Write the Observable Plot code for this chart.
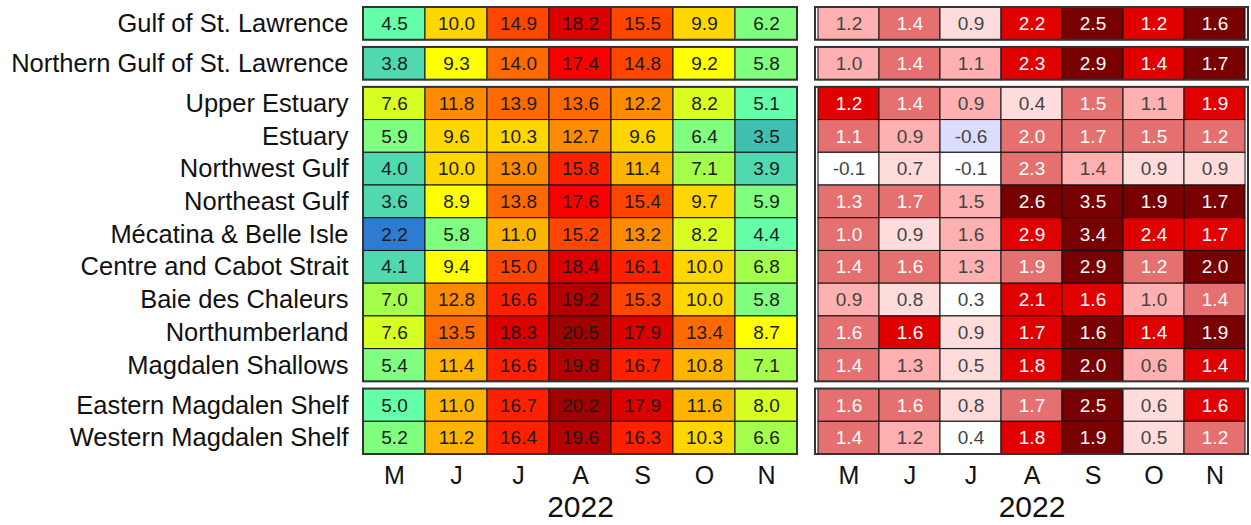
<!DOCTYPE html>
<html>
<head>
<meta charset="utf-8">
<script src="https://cdn.jsdelivr.net/npm/d3@7"></script>
<script src="https://cdn.jsdelivr.net/npm/@observablehq/plot@0.6"></script>
<style>
  html, body { margin: 0; padding: 0; background: #fff; }
  #wrap { display: flex; flex-direction: row; width: 1251px; height: 525px; }
</style>
</head>
<body>
<div id="wrap"></div>
<script>
// ---------- data ----------
const regions = [
  "Gulf of St. Lawrence",
  "Northern Gulf of St. Lawrence",
  "Upper Estuary",
  "Estuary",
  "Northwest Gulf",
  "Northeast Gulf",
  "Mécatina & Belle Isle",
  "Centre and Cabot Strait",
  "Baie des Chaleurs",
  "Northumberland",
  "Magdalen Shallows",
  "Eastern Magdalen Shelf",
  "Western Magdalen Shelf"
];
const groupSizes = [1, 1, 9, 2];
const monthKeys = ["May", "Jun", "Jul", "Aug", "Sep", "Oct", "Nov"];
const monthLabels = ["M", "J", "J", "A", "S", "O", "N"];
const yearLabel = "2022";

const temperatures = [
  [4.5, 10.0, 14.9, 18.2, 15.5, 9.9, 6.2],
  [3.8, 9.3, 14.0, 17.4, 14.8, 9.2, 5.8],
  [7.6, 11.8, 13.9, 13.6, 12.2, 8.2, 5.1],
  [5.9, 9.6, 10.3, 12.7, 9.6, 6.4, 3.5],
  [4.0, 10.0, 13.0, 15.8, 11.4, 7.1, 3.9],
  [3.6, 8.9, 13.8, 17.6, 15.4, 9.7, 5.9],
  [2.2, 5.8, 11.0, 15.2, 13.2, 8.2, 4.4],
  [4.1, 9.4, 15.0, 18.4, 16.1, 10.0, 6.8],
  [7.0, 12.8, 16.6, 19.2, 15.3, 10.0, 5.8],
  [7.6, 13.5, 18.3, 20.5, 17.9, 13.4, 8.7],
  [5.4, 11.4, 16.6, 19.8, 16.7, 10.8, 7.1],
  [5.0, 11.0, 16.7, 20.2, 17.9, 11.6, 8.0],
  [5.2, 11.2, 16.4, 19.6, 16.3, 10.3, 6.6]
];

const anomalies = [
  [1.2, 1.4, 0.9, 2.2, 2.5, 1.2, 1.6],
  [1.0, 1.4, 1.1, 2.3, 2.9, 1.4, 1.7],
  [1.2, 1.4, 0.9, 0.4, 1.5, 1.1, 1.9],
  [1.1, 0.9, -0.6, 2.0, 1.7, 1.5, 1.2],
  [-0.1, 0.7, -0.1, 2.3, 1.4, 0.9, 0.9],
  [1.3, 1.7, 1.5, 2.6, 3.5, 1.9, 1.7],
  [1.0, 0.9, 1.6, 2.9, 3.4, 2.4, 1.7],
  [1.4, 1.6, 1.3, 1.9, 2.9, 1.2, 2.0],
  [0.9, 0.8, 0.3, 2.1, 1.6, 1.0, 1.4],
  [1.6, 1.6, 0.9, 1.7, 1.6, 1.4, 1.9],
  [1.4, 1.3, 0.5, 1.8, 2.0, 0.6, 1.4],
  [1.6, 1.6, 0.8, 1.7, 2.5, 0.6, 1.6],
  [1.4, 1.2, 0.4, 1.8, 1.9, 0.5, 1.2]
];

// standardized-anomaly colour class of each cell
const anomalyClass = [
  [2, 3, 1, 4, 5, 4, 5],
  [2, 3, 2, 4, 5, 4, 5],
  [4, 3, 2, 1, 3, 2, 4],
  [3, 2, -1, 3, 3, 3, 3],
  [0, 1, 0, 3, 2, 1, 1],
  [3, 3, 2, 5, 5, 5, 5],
  [3, 1, 2, 4, 5, 4, 4],
  [3, 3, 2, 3, 5, 3, 5],
  [2, 1, 0, 4, 4, 2, 3],
  [3, 4, 1, 4, 5, 4, 5],
  [3, 2, 1, 4, 5, 2, 4],
  [3, 3, 1, 3, 5, 1, 4],
  [3, 2, 0, 4, 5, 1, 3]
];

// ---------- scale configuration ----------
const tempThresholds = [3.0, 3.55, 4.3, 5.15, 6.5, 7.3, 8.5, 9.5, 10.5, 11.7, 13.3, 14.4, 15.6, 17.0, 17.7, 18.8, 20.0];
const tempColors = ["#2e7bd2", "#40c0b0", "#50d8b0", "#64ffa8", "#80ff80", "#a4ff4c", "#d8ff22",
  "#ffff00", "#ffd700", "#ffb400", "#ff8c00", "#ff6a00", "#ff4600", "#ff2000",
  "#fa0000", "#dc0000", "#b40000", "#a00000"];
const classDomain = [-1, 0, 1, 2, 3, 4, 5];
const classColors = ["#dcdcff", "#ffffff", "#ffdcdc", "#ffb0b0", "#e47070", "#e00000", "#780000"];

// ---------- layout (row positions with gaps between groups) ----------
const gap = 0.22;
const rowPos = [];
const groupSpans = [];
{
  let y = 0;
  groupSizes.forEach(n => {
    const start = y;
    for (let i = 0; i < n; i++) { rowPos.push(y); y += 1; }
    groupSpans.push({y1: start, y2: y});
    y += gap;
  });
}
const total = rowPos[rowPos.length - 1] + 1;

const cells = [];
regions.forEach((r, i) => {
  monthKeys.forEach((m, j) => {
    cells.push({
      region: r, month: m,
      temp: temperatures[i][j],
      anom: anomalies[i][j],
      cls: anomalyClass[i][j],
      top: rowPos[i], bottom: rowPos[i] + 1, mid: rowPos[i] + 0.5
    });
  });
});
const labelRows = regions.map((r, i) => ({region: r, mid: rowPos[i] + 0.5}));

const H = 525, MT = 7, MB = 71;
const font = "'Liberation Sans', Arial, Helvetica, sans-serif";
const fmt = v => v.toFixed(1);

const monthText = () => Plot.text(monthKeys, {
  x: d => d, text: d => monthLabels[monthKeys.indexOf(d)],
  frameAnchor: "bottom", lineAnchor: "middle", dy: 21, fontSize: 25, fill: "#111"
});
const yearText = () => Plot.text([yearLabel], {
  text: d => d, frameAnchor: "bottom", lineAnchor: "middle", dy: 53, fontSize: 30, fill: "#111"
});
const groupFrames = () => Plot.barY(groupSpans, {
  y1: "y1", y2: "y2", fill: "none", stroke: "#333", strokeWidth: 2
});

// left panel: monthly mean temperatures
const left = Plot.plot({
  width: 806, height: H,
  marginLeft: 363, marginRight: 9, marginTop: MT, marginBottom: MB,
  style: {fontFamily: font, background: "white", color: "#111"},
  x: {type: "band", domain: monthKeys, padding: 0, axis: null},
  y: {domain: [0, total], range: [MT, H - MB], axis: null},
  color: {type: "threshold", domain: tempThresholds, range: tempColors},
  marks: [
    Plot.barY(cells, {x: "month", y1: "top", y2: "bottom", fill: "temp", stroke: "#111", strokeWidth: 1}),
    groupFrames(),
    Plot.text(cells, {x: "month", y: "mid", text: d => fmt(d.temp), fontSize: 19, fill: "#1a1a1a"}),
    Plot.text(labelRows, {y: "mid", text: "region", frameAnchor: "left", textAnchor: "end", dx: -15, fontSize: 25.5, fill: "#111"}),
    monthText(),
    yearText()
  ]
});

// right panel: anomalies
const right = Plot.plot({
  width: 445, height: H,
  marginLeft: 9, marginRight: 3, marginTop: MT, marginBottom: MB,
  style: {fontFamily: font, background: "white", color: "#111"},
  x: {type: "band", domain: monthKeys, padding: 0, axis: null},
  y: {domain: [0, total], range: [MT, H - MB], axis: null},
  color: {type: "ordinal", domain: classDomain, range: classColors},
  marks: [
    Plot.barY(cells, {x: "month", y1: "top", y2: "bottom", fill: "cls", stroke: "#111", strokeWidth: 1}),
    groupFrames(),
    Plot.text(cells.filter(d => d.cls >= 3), {x: "month", y: "mid", text: d => fmt(d.anom), fontSize: 19, fill: "white"}),
    Plot.text(cells.filter(d => d.cls < 3), {x: "month", y: "mid", text: d => fmt(d.anom), fontSize: 19, fill: "#444"}),
    monthText(),
    yearText()
  ]
});

document.getElementById("wrap").append(left, right);
</script>
</body>
</html>
